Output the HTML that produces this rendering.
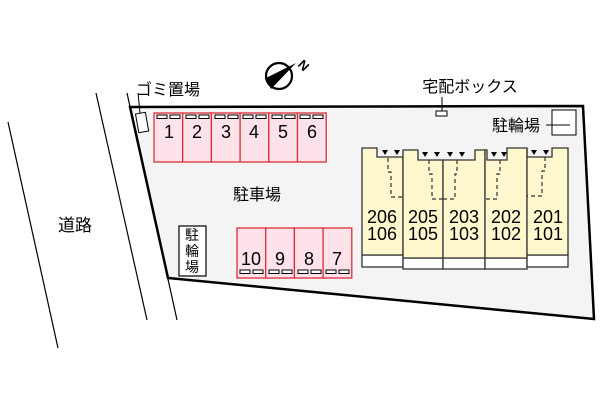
<!DOCTYPE html>
<html><head><meta charset="utf-8"><style>
html,body{margin:0;padding:0;background:#fff;}
svg{display:block;font-family:"Liberation Sans","Noto Sans CJK JP",sans-serif;}
</style></head><body>
<svg width="600" height="400" viewBox="0 0 600 400" xmlns="http://www.w3.org/2000/svg">
<line x1="8" y1="122" x2="58" y2="348" stroke="#000" stroke-width="1.2"/>
<line x1="96" y1="93" x2="147" y2="320" stroke="#000" stroke-width="1.2"/>
<line x1="127" y1="93" x2="177" y2="320" stroke="#000" stroke-width="1.2"/>
<text x="75" y="231" font-size="17" text-anchor="middle">道路</text>
<polygon points="130,107 583,106 594,319 168,278" fill="#f4f4f4" stroke="#000" stroke-width="2.5"/>
<line x1="138" y1="93" x2="140" y2="113" stroke="#000" stroke-width="1"/>
<rect x="137" y="113" width="10" height="19" fill="#fff" stroke="#000" stroke-width="1" transform="rotate(-10 142 122)"/>
<text x="168" y="95" font-size="16" text-anchor="middle">ゴミ置場</text>
<circle cx="279" cy="76" r="13" fill="#fff" stroke="#000" stroke-width="2.2"/>
<polygon points="266,78 296,63 271,89" fill="#000"/>
<text x="304" y="70" font-size="13" font-weight="bold" transform="rotate(45 304 65)" text-anchor="middle">N</text>
<g fill="#fde2ea" stroke="#d9303a" stroke-width="1.3">
<rect x="154" y="113" width="28.7" height="49"/><rect x="182.7" y="113" width="28.7" height="49"/>
<rect x="211.4" y="113" width="28.7" height="49"/><rect x="240.1" y="113" width="28.7" height="49"/>
<rect x="268.8" y="113" width="28.7" height="49"/><rect x="297.5" y="113" width="28.7" height="49"/>
<rect x="237" y="228" width="28.7" height="50"/><rect x="265.7" y="228" width="28.7" height="50"/>
<rect x="294.4" y="228" width="28.7" height="50"/><rect x="323.1" y="228" width="28.7" height="50"/>
</g>
<g fill="#fff" stroke="#000" stroke-width="1">
<rect x="157" y="115" width="10" height="3.5"/><rect x="170" y="115" width="10" height="3.5"/>
<rect x="186" y="115" width="10" height="3.5"/><rect x="199" y="115" width="10" height="3.5"/>
<rect x="215" y="115" width="10" height="3.5"/><rect x="228" y="115" width="10" height="3.5"/>
<rect x="243" y="115" width="10" height="3.5"/><rect x="256" y="115" width="10" height="3.5"/>
<rect x="272" y="115" width="10" height="3.5"/><rect x="285" y="115" width="10" height="3.5"/>
<rect x="300" y="115" width="10" height="3.5"/><rect x="313" y="115" width="10" height="3.5"/>
<rect x="240" y="270" width="10" height="3.5"/><rect x="253" y="270" width="10" height="3.5"/>
<rect x="269" y="270" width="10" height="3.5"/><rect x="282" y="270" width="10" height="3.5"/>
<rect x="298" y="270" width="10" height="3.5"/><rect x="311" y="270" width="10" height="3.5"/>
<rect x="326" y="270" width="10" height="3.5"/><rect x="339" y="270" width="10" height="3.5"/>
</g>
<g font-size="18" text-anchor="middle">
<text x="169" y="138">1</text><text x="197" y="138">2</text><text x="226" y="138">3</text>
<text x="254" y="138">4</text><text x="283" y="138">5</text><text x="312" y="138">6</text>
<text x="251" y="265">10</text><text x="280" y="265">9</text><text x="309" y="265">8</text><text x="337" y="265">7</text>
</g>
<text x="257" y="200" font-size="16" text-anchor="middle">駐車場</text>
<rect x="179" y="226" width="27" height="50" fill="#fff" stroke="#000" stroke-width="1.2"/>
<g font-size="14" text-anchor="middle"><text x="192" y="240">駐</text><text x="192" y="256">輪</text><text x="192" y="272">場</text></g>
<text x="470" y="92" font-size="16" text-anchor="middle">宅配ボックス</text>
<line x1="442" y1="97" x2="442" y2="111" stroke="#000" stroke-width="1"/>
<rect x="436" y="111" width="11" height="5" fill="#fff" stroke="#000" stroke-width="1"/>
<text x="516" y="131" font-size="16" text-anchor="middle">駐輪場</text>
<rect x="552" y="110" width="24" height="25" fill="#fff" stroke="#000" stroke-width="1"/>
<line x1="546" y1="125" x2="570" y2="125" stroke="#000" stroke-width="1"/>
<g stroke="#333" stroke-width="1.3">
<rect x="362" y="255" width="41" height="12" fill="#fff"/>
<rect x="403" y="258" width="40" height="11" fill="#fff"/>
<rect x="443" y="258" width="42" height="11" fill="#fff"/>
<rect x="485" y="258" width="42" height="11" fill="#fff"/>
<rect x="527" y="255" width="41" height="12" fill="#fff"/>
<path d="M362,148 H377 V157 H403 V255 H362 Z" fill="#fff8cf"/>
<path d="M403,150 H418 V160 H443 V258 H403 Z" fill="#fff8cf"/>
<path d="M443,160 H475 V150 H485 V258 H443 Z" fill="#fff8cf"/>
<path d="M485,150 H487 V160 H507 V148 H527 V258 H485 Z" fill="#fff8cf"/>
<path d="M527,148 V157 H552 V148 H568 V255 H527 Z" fill="#fff8cf"/>
</g>
<g fill="none" stroke="#333" stroke-width="1.2" stroke-dasharray="4,3">
<path d="M388,158 V172 H391 V197 H403"/>
<path d="M429,160 V174 H432 V199 H443"/>
<path d="M457,160 V174 H455 V199 H443"/>
<path d="M500,160 V174 H497 V199 H485"/>
<path d="M545,157 V171 H542 V196 H527"/>
</g>
<g fill="#000">
<polygon points="382,150 388,150 385,155"/><polygon points="394,150 400,150 397,155"/>
<polygon points="422,152 428,152 425,157"/><polygon points="434,152 440,152 437,157"/>
<polygon points="447,152 453,152 450,157"/><polygon points="459,152 465,152 462,157"/>
<polygon points="491,152 497,152 494,157"/><polygon points="501,152 507,152 504,157"/>
<polygon points="531,150 537,150 534,155"/><polygon points="543,150 549,150 546,155"/>
</g>
<g font-size="18" text-anchor="middle">
<text x="382" y="223">206</text><text x="382" y="240">106</text>
<text x="423" y="223">205</text><text x="423" y="240">105</text>
<text x="464" y="223">203</text><text x="464" y="240">103</text>
<text x="506" y="223">202</text><text x="506" y="240">102</text>
<text x="548" y="223">201</text><text x="548" y="240">101</text>
</g>
</svg>
</body></html>
